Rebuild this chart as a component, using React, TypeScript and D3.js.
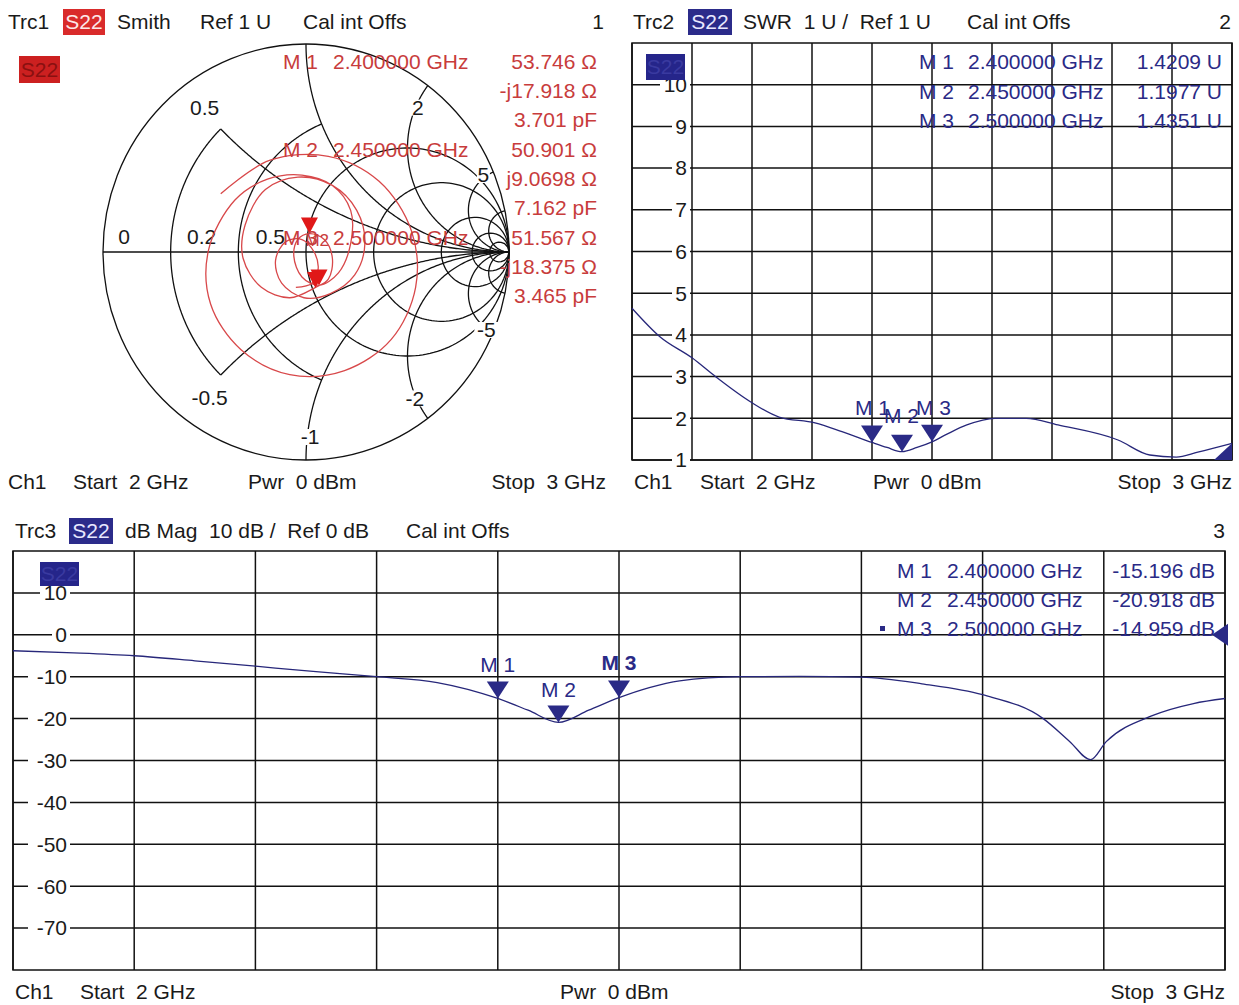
import React from "react";
import * as d3 from "d3";

// ---- values ----
const freqTicks = [2.0, 2.1, 2.2, 2.3, 2.4, 2.5, 2.6, 2.7, 2.8, 2.9, 3.0];

const dbFreq = [2.0, 2.05, 2.1, 2.15, 2.2, 2.25, 2.3, 2.35, 2.4, 2.425, 2.45, 2.475, 2.5, 2.525, 2.55, 2.6, 2.65, 2.7, 2.75, 2.8, 2.85, 2.872, 2.889, 2.902, 2.94, 2.974, 3.0];
const dbMag = [-3.8, -4.3, -5.0, -6.2, -7.5, -8.8, -10.0, -11.4, -15.2, -18.0, -20.9, -18.0, -15.0, -12.6, -11.0, -10.0, -9.9, -10.1, -11.7, -14.3, -20.0, -25.5, -29.8, -25.5, -19.3, -16.4, -15.2];
const dbTicks = [10, 0, -10, -20, -30, -40, -50, -60, -70];

const swrFreq = [2.0, 2.047, 2.1, 2.14, 2.198, 2.245, 2.305, 2.35, 2.4, 2.425, 2.45, 2.475, 2.5, 2.525, 2.558, 2.605, 2.657, 2.71, 2.81, 2.863, 2.907, 2.943, 3.0];
const swrVal = [4.64, 3.95, 3.45, 2.99, 2.39, 2.03, 1.89, 1.68, 1.42, 1.3, 1.2, 1.3, 1.435, 1.62, 1.84, 2.0, 2.0, 1.84, 1.48, 1.12, 1.07, 1.19, 1.4];
const swrTicks = [10, 9, 8, 7, 6, 5, 4, 3, 2, 1];

// S22 trace on the Smith chart, reflection coefficient (re, im)
const smithTrace: [number, number][] = [
  [-0.42, 0.28], [-0.18, 0.44], [0.11, 0.46], [0.36, 0.34], [0.52, 0.1], [0.54, -0.17], [0.42, -0.42],
  [0.19, -0.57], [-0.08, -0.59], [-0.32, -0.47], [-0.47, -0.25], [-0.48, 0.01],
  [-0.35, 0.25], [-0.19, 0.35], [-0.02, 0.37], [0.13, 0.32], [0.22, 0.2], [0.22, 0.04], [0.16, -0.1], [0.064, -0.16],
  [-0.02, -0.12], [-0.06, -0.02], [-0.04, 0.06], [0.017, 0.088], [0.09, 0.06], [0.13, -0.03], [0.11, -0.13], [0.047, -0.17],
  [-0.08, -0.22], [-0.22, -0.17], [-0.31, -0.03], [-0.3, 0.13], [-0.2, 0.3], [-0.04, 0.36], [0.13, 0.32], [0.25, 0.2],
  [0.29, 0.04], [0.24, -0.11], [0.12, -0.2], [-0.01, -0.22],
  [-0.12, -0.15], [-0.15, -0.04], [-0.1, 0.05], [-0.02, 0.06], [0.04, 0.0], [0.06, -0.08], [0.03, -0.15], [-0.05, -0.17],
];

// Smith grid: [r, xFrom, xTo] and [x, rFrom]
const rArcs: [number, number, number][] = [
  [0.2, -0.5, 0.5], [0.5, -1, 1], [1, -Infinity, Infinity], [2, -Infinity, Infinity],
  [5, -Infinity, Infinity], [10, -Infinity, Infinity], [20, -Infinity, Infinity],
];
const xArcs: [number, number][] = [
  [0.5, 0.2], [-0.5, 0.2], [1, 0], [-1, 0], [2, 0], [-2, 0], [5, 0], [-5, 0], [10, 0], [-10, 0],
];
const smithLabels = ["0", "0.2", "0.5", "0.5", "2", "5", "-0.5", "-2", "-5", "-1"];

const markerNames = ["M 1", "M 2", "M 3"];
const markerFreq = [2.4, 2.45, 2.5];
const markerFreqText = ["2.400000 GHz", "2.450000 GHz", "2.500000 GHz"];
const markerSwr = [1.4209, 1.1977, 1.4351];
const markerSwrText = ["1.4209 U", "1.1977 U", "1.4351 U"];
const markerDb = [-15.196, -20.918, -14.959];
const markerDbText = ["-15.196 dB", "-20.918 dB", "-14.959 dB"];
const markerRes = [53.746, 50.901, 51.567];
const markerReact = [-17.918, 9.0698, -18.375];
const markerSmithText = [
  ["53.746 Ω", "-j17.918 Ω", "3.701 pF"],
  ["50.901 Ω", "j9.0698 Ω", "7.162 pF"],
  ["51.567 Ω", "-j18.375 Ω", "3.465 pF"],
];

const FONT = "'Liberation Sans', Arial, sans-serif";
const RED = "#c83c3c";
const BLUE = "#2a2a86";
const NAVY = "#27277a";
const GRID = "#111";

const gamma = (r: number, x: number): [number, number] => {
  const d = (r + 1) * (r + 1) + x * x;
  return [(r * r + x * x - 1) / d, (2 * x) / d];
};

const T = ({ x, y, children, anchor = "start", fill = "#1a1a1a", size = 21, weight = "normal" }: any) => (
  <text x={x} y={y} dy="0.35em" textAnchor={anchor} fill={fill} fontSize={size} fontWeight={weight}
    fontFamily={FONT} style={{ whiteSpace: "pre" }}>{children}</text>
);

const Tag = ({ x, y, w, h, bg, fg, size = 21 }: any) => (
  <g>
    <rect x={x} y={y} width={w} height={h} fill={bg} />
    <T x={x + w / 2} y={y + h / 2} anchor="middle" fill={fg} size={size}>S22</T>
  </g>
);

const tri = (px: number, py: number, w: number, h: number) =>
  `M${px},${py}L${px - w / 2},${py - h}L${px + w / 2},${py - h}Z`;

const Smith = () => {
  const sx = d3.scaleLinear().domain([-1, 1]).range([103, 509]);
  const sy = d3.scaleLinear().domain([-1, 1]).range([460, 44]);
  const line = d3.line<[number, number]>().x((d) => sx(d[0])).y((d) => sy(d[1]));
  const clampTan = (a: number) => Math.tan(Math.max(-1.5704, Math.min(1.5704, a)));

  const rPath = (r: number, x0: number, x1: number) => {
    const a0 = Math.atan(x0), a1 = Math.atan(x1);
    return line(d3.range(241).map((i) => gamma(r, clampTan(a0 + ((a1 - a0) * i) / 240))));
  };
  const xPath = (x: number, r0: number) => {
    const a0 = Math.atan(r0);
    return line(d3.range(241).map((i) => gamma(clampTan(a0 + ((Math.PI / 2 - a0) * i) / 240), x)));
  };

  const anchors: [number, number][] = [
    gamma(0, 0), gamma(0.2, 0), gamma(0.5, 0), gamma(0.2, 0.5), gamma(0, 2), gamma(0, 5),
    gamma(0.2, -0.5), gamma(0, -2), gamma(0, -5), gamma(0, -1),
  ];
  const offs = [[21, -15], [31, -15], [32, -15], [-16, -21], [-10, 22], [-10, 3], [-11, 23], [-13, -20], [-7, -2], [4, -23]];
  const masked = [false, false, false, true, true, true, true, true, true, true];

  const traceLine = d3.line<[number, number]>().x((d) => sx(d[0])).y((d) => sy(d[1])).curve(d3.curveCatmullRom.alpha(0.5));
  const mk = markerRes.map((R, i) => gamma(R / 50, markerReact[i] / 50));

  return (
    <g>
      <g fill="none" stroke={GRID} strokeWidth={1.3}>
        <ellipse cx={sx(0)} cy={sy(0)} rx={sx(1) - sx(0)} ry={sy(-1) - sy(0)} />
        <line x1={sx(-1)} x2={sx(1)} y1={sy(0)} y2={sy(0)} />
        {rArcs.map(([r, a, b], i) => <path key={"r" + i} d={rPath(r, a, b) || ""} />)}
        {xArcs.map(([x, r0], i) => <path key={"x" + i} d={xPath(x, r0) || ""} />)}
      </g>
      {smithLabels.map((t, i) => {
        const lx = sx(anchors[i][0]) + offs[i][0];
        const ly = sy(anchors[i][1]) + offs[i][1];
        const w = t.length * 11 + 2;
        return (
          <g key={i}>
            {masked[i] && <rect x={lx - w / 2} y={ly - 8} width={w} height={16} fill="#fff" />}
            <T x={lx} y={ly} anchor="middle">{t}</T>
          </g>
        );
      })}
      <path d={traceLine(smithTrace) || ""} fill="none" stroke="#d8484a" strokeWidth={1.3} />
      {mk.map((g, i) => (
        <path key={i} d={tri(sx(g[0]), sy(g[1]), 17, 16)} fill="#e01818" />
      ))}
      <T x={sx(mk[1][0]) - 4} y={sy(mk[1][1]) + 6} fill={RED} size={17}>M2</T>

      {/* header */}
      <T x={8} y={22}>Trc1</T>
      <Tag x={63} y={9} w={42} h={26} bg="#d92b2b" fg="#fde8e8" />
      <T x={117} y={22}>Smith</T>
      <T x={200} y={22}>Ref 1 U</T>
      <T x={303} y={22}>Cal int Offs</T>
      <T x={604} y={22} anchor="end">1</T>
      <Tag x={19} y={56} w={41} h={27} bg="#cc2020" fg="#8a1010" />

      {/* marker readout */}
      {markerNames.map((m, i) => (
        <g key={m}>
          <T x={283} y={62 + i * 88} fill={RED}>{m}</T>
          <T x={333} y={62 + i * 88} fill={RED}>{markerFreqText[i]}</T>
          {markerSmithText[i].map((s, j) => (
            <T key={j} x={597} y={62 + i * 88 + j * 29} anchor="end" fill={RED}>{s}</T>
          ))}
        </g>
      ))}

      <T x={8} y={482}>Ch1</T>
      <T x={73} y={482}>Start  2 GHz</T>
      <T x={248} y={482}>Pwr  0 dBm</T>
      <T x={606} y={482} anchor="end">Stop  3 GHz</T>
    </g>
  );
};

const Swr = () => {
  const x = d3.scaleLinear().domain([2, 3]).range([632, 1232]);
  const y = d3.scaleLinear().domain([1, 11]).range([460, 43]);
  const line = d3.line<number>().x((_, i) => x(swrFreq[i])).y((d) => y(d)).curve(d3.curveMonotoneX);
  return (
    <g>
      <g stroke={GRID} strokeWidth={1.5}>
        {freqTicks.map((f) => <line key={f} x1={x(f)} x2={x(f)} y1={43} y2={460} />)}
        {swrTicks.map((v) => <line key={v} x1={632} x2={1232} y1={y(v)} y2={y(v)} />)}
        <rect x={632} y={43} width={600} height={417} fill="none" />
      </g>
      {swrTicks.map((v) => (
        <g key={v}>
          <rect x={688 - String(v).length * 12 - 4} y={y(v) - 3} width={String(v).length * 12 + 6} height={6} fill="#fff" />
          <T x={687} y={y(v)} anchor="end">{v}</T>
        </g>
      ))}
      <path d={line(swrVal) || ""} fill="none" stroke={NAVY} strokeWidth={1.3} />
      {markerFreq.map((f, i) => (
        <path key={i} d={tri(x(f), y(markerSwr[i]), 22, 17)} fill={BLUE} />
      ))}
      <T x={855} y={408} fill={BLUE}>M 1</T>
      <T x={884} y={416} fill={BLUE}>M 2</T>
      <T x={916} y={408} fill={BLUE}>M 3</T>
      <path d={`M${x(3)},${y(1)}L${x(3) - 18},${y(1)}L${x(3)},${y(1.4)}Z`} fill={BLUE} />

      <T x={633} y={22}>Trc2</T>
      <Tag x={688} y={9} w={44} h={26} bg="#2b2b8a" fg="#e8e8ff" />
      <T x={743} y={22}>SWR  1 U /  Ref 1 U</T>
      <T x={967} y={22}>Cal int Offs</T>
      <T x={1231} y={22} anchor="end">2</T>
      <Tag x={646} y={54} w={39} h={26} bg="#25258a" fg="#3a3aa0" />

      {markerNames.map((m, i) => (
        <g key={m}>
          <T x={919} y={62 + i * 29.5} fill={BLUE}>{m}</T>
          <T x={968} y={62 + i * 29.5} fill={BLUE}>{markerFreqText[i]}</T>
          <T x={1222} y={62 + i * 29.5} anchor="end" fill={BLUE}>{markerSwrText[i]}</T>
        </g>
      ))}

      <T x={634} y={482}>Ch1</T>
      <T x={700} y={482}>Start  2 GHz</T>
      <T x={873} y={482}>Pwr  0 dBm</T>
      <T x={1232} y={482} anchor="end">Stop  3 GHz</T>
    </g>
  );
};

const DbMag = () => {
  const x = d3.scaleLinear().domain([2, 3]).range([13, 1225]);
  const y = d3.scaleLinear().domain([-80, 20]).range([970, 551]);
  const line = d3.line<number>().x((_, i) => x(dbFreq[i])).y((d) => y(d)).curve(d3.curveMonotoneX);
  return (
    <g>
      <g stroke={GRID} strokeWidth={1.5}>
        {freqTicks.map((f) => <line key={f} x1={x(f)} x2={x(f)} y1={551} y2={970} />)}
        {dbTicks.map((v) => <line key={v} x1={13} x2={1225} y1={y(v)} y2={y(v)} />)}
        <rect x={13} y={551} width={1212} height={419} fill="none" />
      </g>
      {dbTicks.map((v) => (
        <g key={v}>
          <rect x={68 - String(v).length * 12 - 4} y={y(v) - 3} width={String(v).length * 12 + 6} height={6} fill="#fff" />
          <T x={67} y={y(v)} anchor="end">{v}</T>
        </g>
      ))}
      <path d={line(dbMag) || ""} fill="none" stroke={NAVY} strokeWidth={1.3} />
      {markerFreq.map((f, i) => (
        <path key={i} d={tri(x(f), y(markerDb[i]), 22, 17)} fill={BLUE} />
      ))}
      <T x={x(2.4)} y={665} anchor="middle" fill={BLUE}>M 1</T>
      <T x={x(2.45)} y={690} anchor="middle" fill={BLUE}>M 2</T>
      <T x={x(2.5)} y={663} anchor="middle" fill={BLUE} weight="bold">M 3</T>
      <path d={`M${1212},${y(0)}L${1228},${y(0) - 11}L${1228},${y(0) + 11}Z`} fill={BLUE} />

      <T x={15} y={531}>Trc3</T>
      <Tag x={69} y={518} w={44} h={26} bg="#2b2b8a" fg="#e8e8ff" />
      <T x={125} y={531}>dB Mag  10 dB /  Ref 0 dB</T>
      <T x={406} y={531}>Cal int Offs</T>
      <T x={1225} y={531} anchor="end">3</T>
      <Tag x={40} y={562} w={39} h={24} bg="#25258a" fg="#3a3aa0" />

      <rect x={880} y={626} width={5} height={5} fill={BLUE} />
      {markerNames.map((m, i) => (
        <g key={m}>
          <T x={897} y={571 + i * 29} fill={BLUE}>{m}</T>
          <T x={947} y={571 + i * 29} fill={BLUE}>{markerFreqText[i]}</T>
          <T x={1215} y={571 + i * 29} anchor="end" fill={BLUE}>{markerDbText[i]}</T>
        </g>
      ))}

      <T x={15} y={992}>Ch1</T>
      <T x={80} y={992}>Start  2 GHz</T>
      <T x={560} y={992}>Pwr  0 dBm</T>
      <T x={1225} y={992} anchor="end">Stop  3 GHz</T>
    </g>
  );
};

export default function App() {
  return (
    <svg width={1239} height={1005} viewBox="0 0 1239 1005"
      style={{ position: "absolute", left: 0, top: 0, background: "#fff" }}>
      <rect width={1239} height={1005} fill="#fff" />
      <Smith />
      <Swr />
      <DbMag />
    </svg>
  );
}
